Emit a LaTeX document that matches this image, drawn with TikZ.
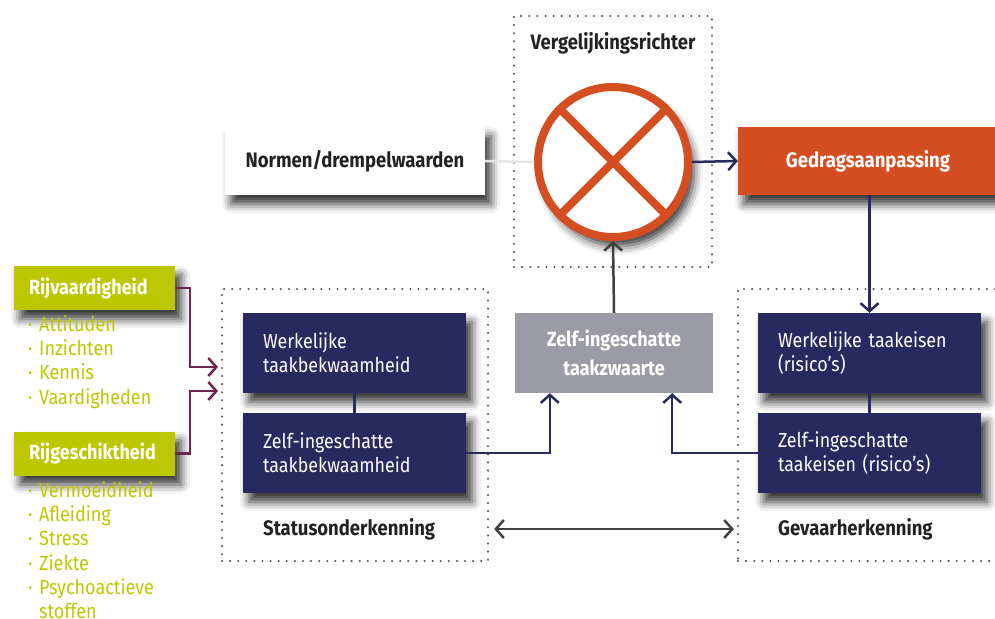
\documentclass[tikz,border=0pt]{standalone}
\usepackage{fontspec}
\setmainfont{Fira Sans}[FakeStretch=0.88]
\usetikzlibrary{positioning,arrows.meta,shadows.blur}

\definecolor{navy}{HTML}{272A5F}
\definecolor{rust}{HTML}{D54E21}
\definecolor{slate}{HTML}{9B9AA7}
\definecolor{lime}{HTML}{BDC700}
\definecolor{plum}{HTML}{6E2651}
\definecolor{ink}{HTML}{404040}
\definecolor{dotc}{HTML}{555555}
\definecolor{textdark}{HTML}{222222}

\begin{document}
\begin{tikzpicture}[x=1pt, y=-1pt,
  >={Straight Barb[length=8pt,width=18pt]},
  card/.style={blur shadow={shadow xshift=6pt, shadow yshift=-9pt, shadow blur radius=9pt, shadow opacity=80}},
  dots/.style={draw=dotc, line width=2.3pt, line cap=round, dash pattern=on 0pt off 8.1pt},
  taskbox/.style={card, fill=navy, text=white, minimum height=80pt, text width=183pt, inner xsep=20pt, align=left, font=\fontsize{20.3}{24}\selectfont},
  tag/.style={card, fill=lime, text=white, minimum height=44pt, text width=131pt, inner xsep=15pt, align=left, font=\fontsize{20.5}{24}\selectfont\bfseries},
  banner/.style={card, minimum width=260pt, minimum height=68pt, font=\fontsize{21}{24}\selectfont\bfseries},
  heading/.style={text=textdark, inner sep=0pt, font=\fontsize{21}{24}\selectfont\bfseries},
  list/.style={text=lime, align=left, inner sep=0pt, font=\fontsize{20.5}{24.3}\selectfont},
  link/.style={line width=2.5pt}]

\def \itm {\makebox[11pt][l]{·}}

\useasboundingbox (0, 0) rectangle (995, 618);
\clip (0, 0) rectangle (995, 618);

% dotted frames
\node [dots, minimum width=198pt, minimum height=251pt] (verg) at (613, 141.5) {};
\node [dots, minimum width=266pt, minimum height=272pt] (status) at (355, 425) {};
\node [dots, minimum width=272pt, minimum height=272pt] (gevaar) at (874, 425) {};

\node [heading] (vglbl) at (613, 43) {Vergelijkingsrichter};
\node [heading, anchor=west] (stlbl) at (263, 529) {Statusonderkenning};
\node [heading, anchor=west] (gvlbl) at (778, 529) {Gevaarherkenning};

% top row
\node [banner, fill=white, text=textdark] (normen) at (355, 161) {Normen/drempelwaarden};
\node [banner, fill=rust, text=white] (gedrag) at (868, 161) {Gedragsaanpassing};

% comparator
\node [card, circle, draw=rust, line width=8pt, fill=white, minimum size=150pt, inner sep=0pt] (cmp) at (613, 162) {};
\draw [rust, line width=8pt] (cmp.45) -- (cmp.225) (cmp.135) -- (cmp.315);

% task boxes
\node [taskbox] (wtb) at (354.5, 353) {Werkelijke\\taakbekwaamheid};
\node [taskbox] (ztb) at (354.5, 453) {Zelf-ingeschatte\\taakbekwaamheid};
\node [taskbox] (wte) at (869.5, 353) {Werkelijke taakeisen\\(risico’s)};
\node [taskbox] (zte) at (869.5, 453) {Zelf-ingeschatte\\taakeisen (risico’s)};
\node [fill=slate, text=white, minimum width=198pt, minimum height=80pt, align=center,
       font=\fontsize{20.5}{29}\selectfont\bfseries] (zwaarte) at (614, 353) {Zelf-ingeschatte\\taakzwaarte};

% driver side
\node [tag] (rijv) at (94.5, 288) {Rijvaardigheid};
\node [tag] (rijg) at (94.5, 453.5) {Rijgeschiktheid};
\node [list, anchor=north west] (skills) at (28, 315) {\itm Attituden\\\itm Inzichten\\\itm Kennis\\\itm Vaardigheden};
\node [list, anchor=north west] (states) at (28, 481) {\itm Vermoeidheid\\\itm Afleiding\\\itm Stress\\\itm Ziekte\\\itm Psychoactieve\\\makebox[11pt]{}stoffen};

\coordinate (inA) at (218, 367);
\coordinate (inB) at (218, 391);

% connectors
\draw [link, black!10] (normen.east) -- (cmp.west);
\draw [link, ->, navy] (cmp.east) -- (gedrag.west);
\draw [link, ->, navy] (wte.north |- gedrag.south) -- (wte.north);
\draw [link, ->, ink] (zwaarte.north) -- (cmp.south);
\draw [link, navy] (wtb) -- (ztb);
\draw [link, navy] (wte) -- (zte);
\draw [link, ->, navy] (ztb.east) -| ([xshift=35pt]zwaarte.south west);
\draw [link, ->, navy] (zte.west) -| ([xshift=-41pt]zwaarte.south east);
\draw [link, <->, ink, shorten <=5pt, shorten >=3pt] (stlbl -| status.east) -- (stlbl -| gevaar.west);
\draw [link, ->, plum] (rijv.east) -- ++(15, 0) |- (inA);
\draw [link, ->, plum] (rijg.east) -- ++(15, 0) |- (inB);

\end{tikzpicture}
\end{document}
